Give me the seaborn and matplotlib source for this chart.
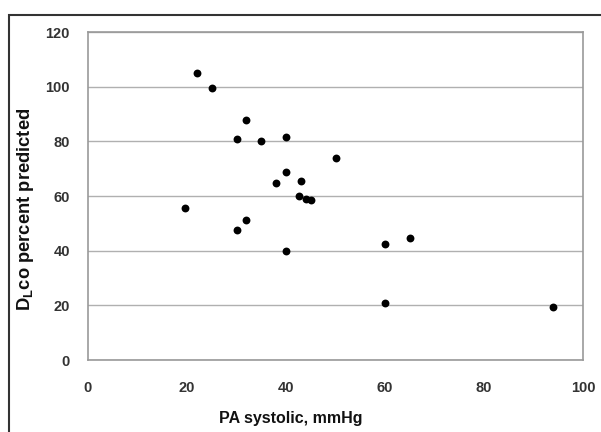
import matplotlib
matplotlib.use("Agg")
import matplotlib.pyplot as plt
import seaborn as sns
import pandas as pd
from matplotlib.patches import Rectangle

# PA systolic pressure (mmHg) vs DLco percent predicted
pa_systolic = [22, 25, 32, 30, 35, 40, 40, 38, 43, 42.7, 44, 45,
               19.6, 32, 30, 40, 50, 60, 65, 60, 94]
dlco_pct    = [105, 99.6, 87.7, 80.7, 80, 81.5, 68.8, 64.6, 65.5, 60, 58.8, 58.5,
               55.5, 51.4, 47.4, 40, 73.8, 42.4, 44.5, 20.7, 19.5]
x_ticks = [0, 20, 40, 60, 80, 100]
y_ticks = [0, 20, 40, 60, 80, 100, 120]

df = pd.DataFrame({"pa": pa_systolic, "dlco": dlco_pct})

sns.set_style("white")
plt.rcParams["font.family"] = ["Liberation Sans", "DejaVu Sans"]
plt.rcParams["mathtext.fontset"] = "custom"
plt.rcParams["mathtext.bf"] = "Liberation Sans:bold"
plt.rcParams["mathtext.rm"] = "Liberation Sans:bold"

fig = plt.figure(figsize=(6.01, 4.32), dpi=100)
ax = fig.add_axes([88 / 601, 72 / 432, 495 / 601, 328 / 432])

sns.scatterplot(data=df, x="pa", y="dlco", ax=ax, color="black",
                s=32, edgecolor="black", linewidth=0, zorder=3)

ax.set_xlim(0, 100)
ax.set_ylim(0, 120)
ax.set_xticks(x_ticks)
ax.set_yticks(y_ticks)
ax.yaxis.grid(True, color="#b0b0b0", linewidth=1)
ax.xaxis.grid(False)
for side in ["left", "bottom", "right", "top"]:
    ax.spines[side].set_color("#999999")
    ax.spines[side].set_linewidth(1.2)

ax.tick_params(axis="both", direction="out", length=4, width=1, color="#999999",
               labelsize=10.5, labelcolor="#333333")
ax.tick_params(axis="y", pad=9)
ax.tick_params(axis="x", pad=11)
for lbl in ax.get_xticklabels() + ax.get_yticklabels():
    lbl.set_fontweight("bold")

ax.set_xlabel("PA systolic, mmHg", fontsize=11.5, fontweight="bold", color="#111111")
ax.set_ylabel(r"D$_{\mathbf{L}}$co percent predicted", fontsize=13.2,
              fontweight="bold", color="#111111")
ax.xaxis.set_label_coords(0.41, -0.155)
ax.yaxis.set_label_coords(-0.105, 0.46)

# outer frame, cut off at right and bottom edges
fig.patches.append(Rectangle((9 / 601, -0.1), 1.2, 417 / 432 + 0.1,
                             transform=fig.transFigure, fill=False,
                             edgecolor="#333333", linewidth=1.5))

plt.savefig("out.png", dpi=100)
plt.close()
